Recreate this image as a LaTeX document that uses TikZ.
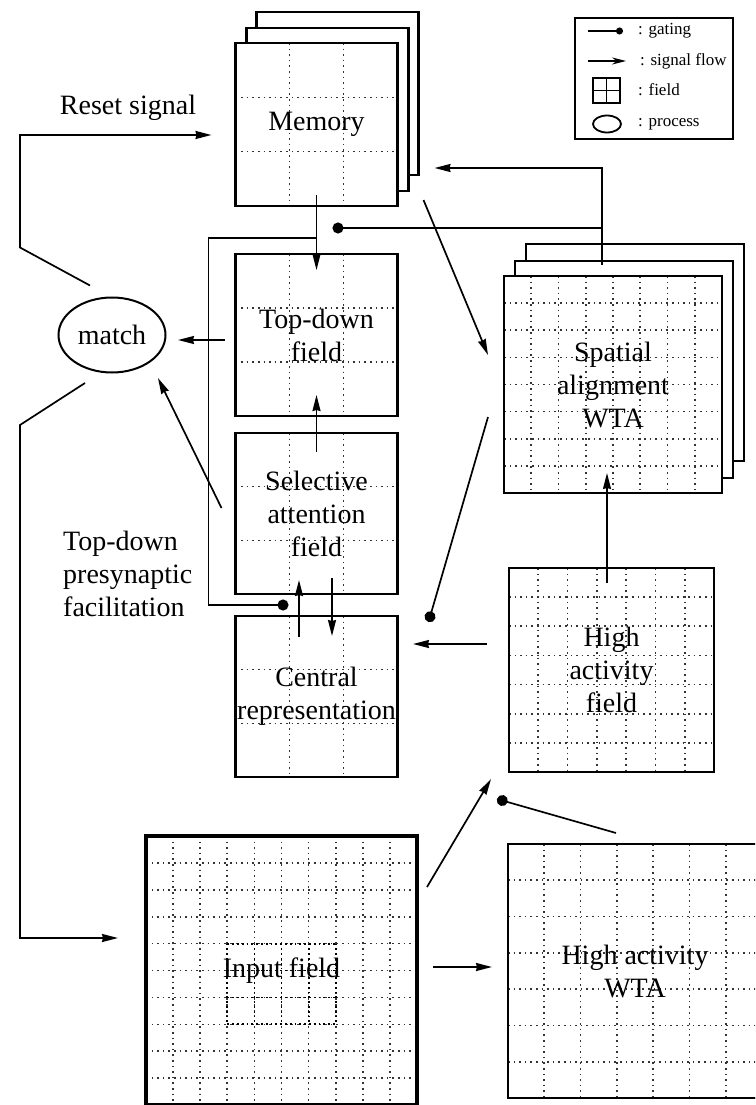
\documentclass[tikz,border=0pt]{standalone}
\usepackage{fontspec}
\setmainfont{Liberation Serif}
\usetikzlibrary{arrows.meta,calc,shapes.geometric}

\newcommand{\labfont}{\fontsize{28}{33}\selectfont}
\newcommand{\keyfont}{\fontsize{17}{19}\selectfont}

\tikzset{
  griddots/.style={line width=1.6pt, dash pattern=on 1.6pt off 4pt, black!80},
  darkdots/.style={line width=1.8pt, dash pattern=on 1.8pt off 3pt, black},
  cells/.style={path picture={
    \foreach \k in {1,...,#1} {
      \draw[griddots] ($(path picture bounding box.north west)!\k/#1!(path picture bounding box.north east)$)
        -- ($(path picture bounding box.south west)!\k/#1!(path picture bounding box.south east)$);
      \draw[griddots] ($(path picture bounding box.north west)!\k/#1!(path picture bounding box.south west)$)
        -- ($(path picture bounding box.north east)!\k/#1!(path picture bounding box.south east)$);
    }}},
  fieldbox/.style={draw, line width=2.6pt, fill=white, inner sep=0pt, outer sep=0pt, align=center, font=\labfont},
  flow/.style={line width=1.7pt, -{Stealth[length=16pt,width=8pt,inset=1pt]}},
  gate/.style={line width=1.7pt, -{Circle[length=11pt]}},
}

\begin{document}
\begin{tikzpicture}[x=1pt, y=-1pt]
\path[use as bounding box, clip] (0,0) rectangle (755,1105);

% memory stack
\coordinate (memc) at (316.5,124.5);
\node[fieldbox, minimum width=162pt, minimum height=163pt] (mem3) at ($(memc)+(21,-31)$) {};
\node[fieldbox, minimum width=162pt, minimum height=163pt] (mem2) at ($(memc)+(11,-15)$) {};
\node[fieldbox, cells=3, minimum width=162pt, minimum height=163pt] (mem) at (memc) {Memory};

% left column
\node[fieldbox, cells=3, minimum width=162pt, minimum height=162pt] (tdf) at (316.5,335) {Top-down\\field};
\node[fieldbox, cells=3, minimum width=162pt, minimum height=161pt] (saf) at (316.5,513.5) {Selective\\attention\\field};
\node[fieldbox, cells=3, minimum width=162pt, minimum height=161pt] (cr) at (316.5,696.5) {Central\\representation};

% spatial alignment stack
\coordinate (sac) at (613,384.5);
\node[fieldbox, minimum width=218pt, minimum height=217pt] (sa3) at ($(sac)+(22,-32)$) {};
\node[fieldbox, minimum width=218pt, minimum height=217pt] (sa2) at ($(sac)+(11,-15)$) {};
\node[fieldbox, cells=8, minimum width=218pt, minimum height=217pt] (sa) at (sac) {Spatial\\alignment\\WTA};

\node[fieldbox, cells=7, minimum width=205pt, minimum height=204pt] (haf) at (611.5,670) {High\\activity\\field};
\node[fieldbox, cells=10, line width=3.6pt, minimum width=271pt, minimum height=269pt] (inp) at (281.5,970.5) {};
% darker centre of the input field
\foreach \c in {3,...,7}
  \draw[darkdots] ($(inp.north west)+(\c*27.1,4*26.9)$) -- ($(inp.north west)+(\c*27.1,7*26.9)$);
\foreach \r in {4,...,7}
  \draw[darkdots] ($(inp.north west)+(3*27.1,\r*26.9)$) -- ($(inp.north west)+(7*27.1,\r*26.9)$);
\node[font=\labfont, inner sep=0pt] (inpt) at (inp) {Input field};
\node[fieldbox, cells=7, minimum width=254pt, minimum height=254pt] (haw) at (635,971) {High activity\\WTA};

\node[draw, ellipse, line width=2pt, minimum width=107pt, minimum height=75pt, inner sep=0pt, outer sep=0pt, font=\labfont] (match) at (112,335) {match};
\node[font=\labfont, inner sep=0pt] (reset) at (128,108) {Reset signal};
\node[font=\labfont, inner sep=0pt, align=left, anchor=west] (facil) at (63,574) {Top-down\\presynaptic\\facilitation};

% connectors
\draw[flow] ($(match.north)+(-22,-12)$) -- ++(-70,-38) |- ($(mem.west)+(-24,10.5)$);
\draw[flow] ($(match.south)+(-27,10.5)$) -- ++(-65,42) |- ($(inp.west)+(-28,-32.5)$);
\draw[flow] ($(tdf.west)+(-11,5)$) -- ($(match.east)+(12.5,5)$);
\draw[flow] ($(saf.west)+(-14,-5.5)$) -- ($(match)+(46,43)$);
\draw[flow] ($(mem.south)+(0,-11)$) -- ($(tdf.north)+(0,16)$);
\coordinate (branch) at ($(mem.south)+(0,32)$);
\draw[gate] (branch) -- ++(-108,0) |- ($(saf.south)+(-28,11)$);
\draw[flow] ($(sa.north)+(-11,-11)$) |- ($(mem.east)+(37,43.5)$);
\coordinate (sagate) at ($(sa.north)+(-11,-48)$);
\draw[gate] (sagate) -- ($(mem.south)+(16,22)$);
\draw[flow] ($(mem.south east)+(26,-6)$) -- ($(sa.west)+(-16,-29.5)$);
\draw[gate] ($(sa.west)+(-16,32.5)$) -- ($(cr.east)+(31,-74.5)$);
\draw[flow] ($(haf.north)+(-4.5,15)$) -- ($(sa.south)+(-6,-20)$);
\draw[flow] ($(haf.west)+(-22,-26)$) -- ($(cr.east)+(15.5,-52.5)$);
\draw[flow] ($(inp.north east)+(10,51)$) -- ($(haf.south west)+(-18,7)$);
\draw[gate] ($(haw.north)+(-19,-11)$) -- ($(haf.south west)+(-12,27)$);
\draw[flow] ($(inp.east)+(16,-3.5)$) -- ($(haw.west)+(-16,-4)$);
\draw[flow] ($(cr.north)+(-17.5,21)$) -- ($(saf.south)+(-17.5,-14)$);
\draw[flow] ($(saf.south)+(15.5,-16)$) -- ($(cr.north)+(15.5,20)$);
\draw[flow] ($(saf.north)+(0,19)$) -- ($(tdf.south)+(0,-21)$);

% legend
\node[draw, line width=1.8pt, minimum width=158pt, minimum height=121pt, inner sep=0pt] (key) at (654,78.5) {};
\draw[line width=1.4pt, -{Circle[length=7pt]}] (588,31) -- (623,31);
\node[anchor=west, font=\keyfont, inner sep=0pt] (kgate) at (638,31) {: gating};
\draw[line width=1.4pt, -{Stealth[length=14pt,width=7pt]}] (588,61) -- (626,61);
\node[anchor=west, font=\keyfont, inner sep=0pt] (kflow) at (640,61) {: signal flow};
\node[draw, line width=1.8pt, minimum width=27pt, minimum height=25pt, inner sep=0pt] (kfield) at (606.5,90.5) {};
\draw[line width=1.8pt] (kfield.north) -- (kfield.south) (kfield.west) -- (kfield.east);
\node[anchor=west, font=\keyfont, inner sep=0pt] (kfieldt) at (638,90) {: field};
\node[draw, ellipse, line width=1.8pt, minimum width=28pt, minimum height=17pt, inner sep=0pt] (kproc) at (607,124) {};
\node[anchor=west, font=\keyfont, inner sep=0pt] (kproct) at (638,124) {: process};
\end{tikzpicture}
\end{document}
